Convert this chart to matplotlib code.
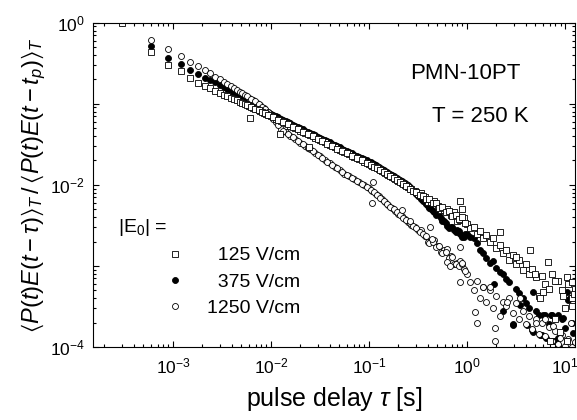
import numpy as np
import matplotlib
matplotlib.use("Agg")
import matplotlib.pyplot as plt
from matplotlib.ticker import LogLocator, FuncFormatter, NullFormatter

plt.rcParams['font.family'] = ['Liberation Sans', 'DejaVu Sans']
plt.rcParams['mathtext.fontset'] = 'custom'
plt.rcParams['mathtext.rm'] = 'Liberation Sans'
plt.rcParams['mathtext.it'] = 'Liberation Sans:italic'
plt.rcParams['mathtext.fallback'] = 'stixsans'

# pulse delays tau [s]
tau = [
    0.0003, 0.0006, 0.0009, 0.0012, 0.0015, 0.0018, 0.0021, 0.0024, 0.0027, 0.0030,
    0.0033, 0.0036, 0.0039, 0.0042, 0.0045, 0.0048, 0.0051, 0.0054, 0.0060, 0.0066,
    0.0072, 0.0078, 0.0084, 0.0090, 0.0096,
    0.0100, 0.0112, 0.0126, 0.0141, 0.0158, 0.0178, 0.0200, 0.0224, 0.0251, 0.0282,
    0.0316, 0.0355, 0.0398, 0.0447, 0.0501, 0.0562, 0.0631, 0.0708, 0.0794, 0.0891,
    0.100, 0.108, 0.117, 0.126, 0.136, 0.147, 0.158, 0.171, 0.185, 0.200,
    0.215, 0.232, 0.251, 0.271, 0.293, 0.316, 0.341, 0.369, 0.398, 0.430,
    0.464, 0.501, 0.541, 0.584, 0.631, 0.681, 0.736, 0.794, 0.858, 0.926,
    1.00, 1.08, 1.17, 1.26, 1.36, 1.47, 1.58, 1.71, 1.85, 2.00,
    2.15, 2.32, 2.51, 2.71, 2.93, 3.16, 3.41, 3.69, 3.98, 4.30,
    4.64, 5.01, 5.41, 5.84, 6.31, 6.81, 7.36, 7.94, 8.58, 9.26,
    10.0, 10.8, 11.7, 12.6]

# |E0| = 125 V/cm (open squares)
sq_125 = [
    1.0, 0.44, 0.30, 0.25, 0.21, 0.18, 0.166, 0.155, 0.145, 0.137,
    0.130, 0.124, 0.119, 0.114, 0.110, 0.106, 0.103, 0.0998, 0.094, 0.089,
    0.085, 0.081, 0.078, 0.075, 0.072,
    0.070, 0.0656, 0.0612, 0.0573, 0.0535, 0.050, 0.0467, 0.0436, 0.0407, 0.0381,
    0.0356, 0.0333, 0.0311, 0.0290, 0.0271, 0.0253, 0.0237, 0.0221, 0.0207, 0.0193,
    1.80e-2, 1.73e-2, 1.64e-2, 1.57e-2, 1.49e-2, 1.40e-2, 1.32e-2, 1.25e-2, 1.18e-2, 1.11e-2,
    1.05e-2, 9.9e-3, 9.3e-3, 8.8e-3, 8.3e-3, 7.8e-3, 7.9e-3, 7.0e-3, 6.2e-3, 6.2e-3,
    6.3e-3, 5.5e-3, 4.9e-3, 4.9e-3, 5.1e-3, 4.2e-3, 4.6e-3, 3.6e-3, 3.7e-3, 3.9e-3,
    3.3e-3, 2.95e-3, 3.0e-3, 2.5e-3, 2.7e-3, 2.2e-3, 2.4e-3, 2.0e-3, 2.2e-3, 1.66e-3,
    1.82e-3, 1.45e-3, 1.58e-3, 1.20e-3, 1.38e-3, 1.07e-3, 1.17e-3, 8.9e-4, 1.05e-3, 7.9e-4,
    9.1e-4, 7.2e-4, 4.2e-4, 7.6e-4, 6.0e-4, 5.2e-4, 7.9e-4, 2.2e-4, 6.6e-4, 5.0e-4,
    3.0e-4, 6.0e-4, 4.0e-4, 5.2e-4]

# |E0| = 375 V/cm (filled circles)
fi_375 = [
    np.nan, 0.52, 0.37, 0.31, 0.26, 0.232, 0.207, 0.195, 0.184, 0.172,
    0.160, 0.151, 0.145, 0.136, 0.130, 0.126, 0.120, 0.116, 0.108, 0.102,
    0.0955, 0.090, 0.085, 0.081, 0.078,
    0.075, 0.070, 0.0655, 0.0613, 0.0572, 0.0535, 0.050, 0.0467, 0.0435, 0.0408,
    0.0381, 0.0356, 0.0333, 0.031, 0.029, 0.0271, 0.0254, 0.0236, 0.0221, 0.0207,
    1.93e-2, 1.85e-2, 1.75e-2, 1.68e-2, 1.59e-2, 1.50e-2, 1.41e-2, 1.34e-2, 1.26e-2, 1.19e-2,
    1.12e-2, 1.06e-2, 9.9e-3, 9.0e-3, 8.1e-3, 7.3e-3, 6.7e-3, 6.1e-3, 5.5e-3, 5.0e-3,
    4.6e-3, 4.4e-3, 3.9e-3, 3.6e-3, 3.1e-3, 3.0e-3, 2.8e-3, 2.8e-3, 2.5e-3, 2.3e-3,
    2.5e-3, 2.3e-3, 2.2e-3, 1.9e-3, 1.58e-3, 1.45e-3, 1.26e-3, 1.10e-3, 1.15e-3, 9.3e-4,
    8.3e-4, 7.9e-4, 6.9e-4, 6.3e-4, 1.9e-4, 5.2e-4, 4.6e-4, 4.0e-4, 3.5e-4, 3.0e-4,
    1.6e-4, 2.75e-4, 2.45e-4, 1.4e-4, 2.45e-4, 1.9e-4, 2.45e-4, 2.3e-4, 1.3e-4, 2.2e-4,
    1.74e-4, 3.8e-4, 2.0e-4, 1.12e-4]

# |E0| = 1250 V/cm (open circles)
op_1250 = [
    np.nan, 0.62, 0.47, 0.39, 0.33, 0.295, 0.263, 0.237, 0.216, 0.200,
    0.186, 0.174, 0.164, 0.155, 0.148, 0.141, 0.135, 0.129, 0.119, 0.111,
    0.1035, 0.0955, 0.089, 0.082, 0.076,
    0.071, 0.060, 0.049, 0.0445, 0.0404, 0.0366, 0.0332, 0.0301, 0.0273, 0.0248,
    0.0225, 0.0204, 0.0185, 0.0168, 0.0152, 0.0138, 0.0127, 0.0117, 0.0107, 0.0099,
    9.1e-3, 8.4e-3, 7.8e-3, 7.2e-3, 6.6e-3, 6.1e-3, 5.6e-3, 5.2e-3, 4.8e-3, 4.4e-3,
    4.1e-3, 3.8e-3, 3.5e-3, 3.2e-3, 3.0e-3, 2.75e-3, 2.8e-3, 2.37e-3, 2.0e-3, 2.05e-3,
    2.1e-3, 1.78e-3, 1.5e-3, 1.56e-3, 1.6e-3, 1.32e-3, 1.05e-3, 1.1e-3, 1.15e-3, 9.1e-4,
    7.9e-4, 6.3e-4, 5.0e-4, 6.6e-4, 4.0e-4, 5.5e-4, 3.55e-4, 5.0e-4, 3.0e-4, 4.2e-4,
    2.4e-4, 3.6e-4, 3.2e-4, 4.0e-4, 2.6e-4, 3.5e-4, 2.2e-4, 2.8e-4, 1.9e-4, 2.4e-4,
    1.66e-4, 2.2e-4, 1.45e-4, 2.0e-4, 1.38e-4, 1.78e-4, 1.2e-4, 1.58e-4, 1.1e-4, 1.41e-4,
    1.02e-4, 1.26e-4, 1.0e-4, 1.15e-4]

tau_b = [
    0.0057, 0.0063, 0.0069, 0.0075, 0.0081, 0.0087, 0.0093,
    0.0106, 0.0119, 0.0133, 0.0150, 0.0168, 0.0189, 0.0212, 0.0237, 0.0266, 0.0299,
    0.0335, 0.0376, 0.0422, 0.0473, 0.0531, 0.0596, 0.0668, 0.0750, 0.0841, 0.0944,
    0.104, 0.112, 0.121, 0.131, 0.141, 0.152, 0.164, 0.178, 0.192, 0.207,
    0.223, 0.241, 0.261, 0.282, 0.304, 0.328, 0.355, 0.383, 0.414, 0.447,
    0.482, 0.521, 0.562, 0.607, 0.655, 0.708, 0.765, 0.825, 0.891, 0.962]
sq_125_b = [
    0.097, 0.0915, 0.087, 0.083, 0.0795, 0.0765, 0.0735,
    0.068, 0.0635, 0.059, 0.0555, 0.0515, 0.0485, 0.045, 0.042, 0.0395, 0.0368,
    0.0345, 0.032, 0.030, 0.028, 0.0262, 0.0246, 0.0228, 0.0215, 0.020, 0.0186,
    1.76e-2, 1.68e-2, 1.60e-2, 1.53e-2, 1.44e-2, 1.36e-2, 1.28e-2, 1.21e-2, 1.14e-2, 1.08e-2,
    1.02e-2, 9.6e-3, 9.0e-3, 8.5e-3, 8.1e-3, 7.5e-3, 7.3e-3, 6.6e-3, 6.6e-3, 5.9e-3,
    5.9e-3, 5.2e-3, 5.3e-3, 4.6e-3, 4.8e-3, 4.1e-3, 4.3e-3, 3.8e-3, 4.0e-3, 3.4e-3]
fi_375_b = [
    0.112, 0.105, 0.099, 0.093, 0.0875, 0.083, 0.0795,
    0.0725, 0.0677, 0.0634, 0.0592, 0.0553, 0.0517, 0.0483, 0.0451, 0.0421, 0.0394,
    0.0368, 0.0344, 0.0321, 0.030, 0.028, 0.0262, 0.0245, 0.0228, 0.0214, 0.020,
    1.89e-2, 1.80e-2, 1.71e-2, 1.63e-2, 1.54e-2, 1.45e-2, 1.37e-2, 1.30e-2, 1.22e-2, 1.15e-2,
    1.09e-2, 1.02e-2, 9.4e-3, 8.5e-3, 7.7e-3, 7.0e-3, 6.4e-3, 5.8e-3, 5.2e-3, 4.8e-3,
    4.3e-3, 4.2e-3, 3.6e-3, 3.4e-3, 2.9e-3, 3.0e-3, 2.6e-3, 2.7e-3, 2.3e-3, 2.45e-3]
op_1250_b = [
    0.124, 0.115, 0.107, 0.0995, 0.092, 0.0855, 0.079,
    0.065, 0.054, 0.0467, 0.0424, 0.0385, 0.0349, 0.0316, 0.0287, 0.026, 0.0236,
    0.0214, 0.0194, 0.0176, 0.016, 0.0145, 0.0132, 0.0122, 0.0112, 0.0103, 9.5e-3,
    8.75e-3, 8.1e-3, 7.5e-3, 6.9e-3, 6.35e-3, 5.85e-3, 5.4e-3, 5.0e-3, 4.6e-3, 4.25e-3,
    3.95e-3, 3.65e-3, 3.35e-3, 3.1e-3, 2.9e-3, 2.65e-3, 2.5e-3, 2.35e-3, 1.9e-3, 2.0e-3,
    1.7e-3, 1.75e-3, 1.45e-3, 1.5e-3, 1.25e-3, 1.3e-3, 1.05e-3, 1.0e-3, 1.05e-3, 8.6e-4]

# scattered points off the main trend
sq_x_tau = [0.0061, 0.0123, 0.0243, 0.85, 0.89, 2.17, 3.2, 4.4, 5.0, 6.77, 8.0,
            10.5, 11.7, 6.0, 9.5, 5.56, 12.3, 11.7, 10.5, 7.08, 8.9]
sq_x_val = [0.066, 0.042, 0.029, 6.4e-3, 5.0e-3, 2.6e-3, 1.3e-3, 1.55e-3, 8.0e-4, 1.12e-3, 6.5e-4,
            7.3e-4, 6.3e-4, 4.8e-4, 4.2e-4, 4.0e-4, 4.5e-4, 3.2e-4, 1.17e-4, 1.17e-4, 1.55e-4]
fi_x_tau = [1.9, 2.34, 2.95, 3.5, 4.1, 4.68, 4.75, 5.56, 6.0, 6.46, 7.2, 7.8, 8.4, 9.5,
            10.5, 11.2, 12.0]
fi_x_val = [6.0e-4, 2.75e-4, 1.86e-4, 3.3e-4, 1.86e-4, 1.55e-4, 4.8e-4, 1.41e-4, 2.45e-4,
            1.29e-4, 2.45e-4, 1.2e-4, 2.45e-4, 2.3e-4, 4.8e-4, 4.0e-4, 1.5e-4]
op_x_tau = [0.107, 0.111, 0.215, 0.262, 0.419, 0.436, 0.622, 0.676, 0.849, 0.85, 0.883,
            1.21, 1.26, 1.47, 1.72, 1.93, 1.93, 2.54, 3.47, 5.1, 6.3, 7.6, 8.9, 10.5, 11.5]
op_x_val = [6.0e-3, 1.07e-2, 4.9e-3, 3.6e-3, 3.0e-3, 2.15e-3, 1.12e-3, 1.0e-3, 1.7e-3, 6.3e-4,
            1.1e-3, 2.7e-4, 1.95e-4, 5.5e-4, 5.5e-4, 1.7e-4, 1.17e-4, 3.6e-4, 4.0e-4, 2.0e-4,
            2.2e-4, 1.8e-4, 1.29e-4, 1.17e-4, 2.0e-4]

labels = ['  125 V/cm', '  375 V/cm', '1250 V/cm']

fig = plt.figure(figsize=(5.77, 4.2), dpi=100)
ax = fig.add_axes([0.1612, 0.1738, 0.8362, 0.7722])

mk = dict(ls='none', mec='black', mew=0.6)
h_fi, = ax.plot(tau + tau_b + fi_x_tau, fi_375 + fi_375_b + fi_x_val,
                marker='o', ms=4.3, mfc='black', **mk)
h_op, = ax.plot(tau + tau_b + op_x_tau, op_1250 + op_1250_b + op_x_val,
                marker='o', ms=4.3, mfc='white', **mk)
h_sq, = ax.plot(tau + tau_b + sq_x_tau, sq_125 + sq_125_b + sq_x_val,
                marker='s', ms=3.9, mfc='white', **mk)

ax.set_xscale('log')
ax.set_yscale('log')
ax.set_xlim(1.53e-4, 12.8)
ax.set_ylim(1e-4, 1.0)

ax.xaxis.set_major_locator(LogLocator(base=10, numticks=20))
ax.yaxis.set_major_locator(LogLocator(base=10, numticks=20))
ax.xaxis.set_minor_locator(LogLocator(base=10, subs=np.arange(2, 10), numticks=100))
ax.yaxis.set_minor_locator(LogLocator(base=10, subs=np.arange(2, 10), numticks=100))
ax.xaxis.set_minor_formatter(NullFormatter())
ax.yaxis.set_minor_formatter(NullFormatter())

def dec_fmt(v, pos):
    e = int(round(np.log10(v)))
    return r'$\mathdefault{10^{%d}}$' % e

def even_fmt(v, pos):
    e = int(round(np.log10(v)))
    if e % 2:
        return ''
    return r'$\mathdefault{10^{%d}}$' % e

ax.xaxis.set_major_formatter(FuncFormatter(dec_fmt))
ax.yaxis.set_major_formatter(FuncFormatter(even_fmt))

ax.tick_params(which='both', direction='in', top=True, right=True, width=0.8, labelsize=12.5)
ax.tick_params(which='major', length=4.5)
ax.tick_params(which='minor', length=2.3)
ax.tick_params(axis='x', pad=7)
ax.tick_params(axis='y', pad=6)
for s in ax.spines.values():
    s.set_linewidth(0.8)

ax.set_xlabel(r'pulse delay $\tau$ [s]', fontsize=18, labelpad=6)
ax.set_ylabel(r'$\langle P(t)E(t-\tau)\rangle_T\,/\,\langle P(t)E(t-t_p)\rangle_T$',
              fontsize=17, labelpad=1)

ax.text(0.657, 0.842, 'PMN-10PT', transform=ax.transAxes, fontsize=16, va='center', ha='left')
ax.text(0.703, 0.71, 'T = 250 K', transform=ax.transAxes, fontsize=16, va='center', ha='left')
ax.text(0.052, 0.3675, r'|E$_0$| =', transform=ax.transAxes, fontsize=14, va='center', ha='left')

ax.legend([h_sq, h_fi, h_op], labels, loc='upper left', bbox_to_anchor=(0.1538, 0.309),
          frameon=False, fontsize=14, handlelength=0.8, handletextpad=1.25,
          labelspacing=0.45, borderpad=0, borderaxespad=0, numpoints=1)

fig.savefig('out.png', dpi=100)
